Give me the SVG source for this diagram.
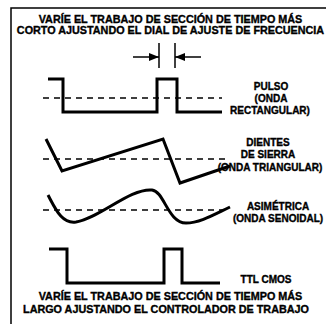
<svg xmlns="http://www.w3.org/2000/svg" width="326" height="324" viewBox="0 0 326 324">
<style>
.t{font-family:"Liberation Sans",Arial,sans-serif;font-weight:bold;font-size:10.8px;fill:#000;stroke:#000;stroke-width:0.35;text-anchor:middle}
.l{font-family:"Liberation Sans",Arial,sans-serif;font-weight:bold;font-size:10px;fill:#000;stroke:#000;stroke-width:0.35;text-anchor:middle}
.w{fill:none;stroke:#000;stroke-width:3;stroke-linejoin:miter}
.d{fill:none;stroke:#000;stroke-width:1.5;stroke-dasharray:6 5}
.a{fill:none;stroke:#000;stroke-width:1.5}
</style>
<defs>
<marker id="ah" markerWidth="10" markerHeight="8" refX="10" refY="4" orient="auto" markerUnits="userSpaceOnUse">
<path d="M0,0 L10,4 L0,8 Z" fill="#000"/>
</marker>
</defs>
<rect width="326" height="324" fill="#fff"/>
<g id="frame">
<path d="M11,324 V8 H326" class="a"/>
</g>
<g id="title">
<text class="t" x="170.5" y="23">VARÍE EL TRABAJO DE SECCIÓN DE TIEMPO MÁS</text>
<text class="t" x="170.5" y="34">CORTO AJUSTANDO EL DIAL DE AJUSTE DE FRECUENCIA</text>
</g>
<g id="connectors">
<line x1="159" y1="43" x2="159" y2="68" class="a"/>
<line x1="175" y1="43" x2="175" y2="68" class="a"/>
<line x1="133" y1="57" x2="159" y2="57" class="a" marker-end="url(#ah)"/>
<line x1="201" y1="57" x2="175" y2="57" class="a" marker-end="url(#ah)"/>
</g>
<g id="pulso">
<line x1="43" y1="98" x2="222" y2="98" class="d"/>
<path d="M48,79 H63 V112 H157 V79 H177 V112 H222" class="w"/>
<text class="l" x="271" y="90">PULSO</text>
<text class="l" x="271" y="102">(ONDA</text>
<text class="l" x="270" y="114">RECTANGULAR)</text>
</g>
<g id="sierra">
<line x1="43" y1="159" x2="227" y2="159" class="d"/>
<path d="M46,139 L62,171 L163,139 L180,183 L230,166" class="w"/>
<text class="l" x="268" y="146">DIENTES</text>
<text class="l" x="268" y="158">DE SIERRA</text>
<text class="l" x="270" y="171">(ONDA TRIANGULAR)</text>
</g>
<g id="senoidal">
<line x1="43" y1="210" x2="227" y2="210" class="d"/>
<path d="M48,195 C56,210 62,224 76,222 C100,218 130,188 152,190 C164,191 168,223 186,223 C200,223 215,214 230,207" class="w"/>
<text class="l" x="278" y="210">ASIMÉTRICA</text>
<text class="l" x="278" y="222">(ONDA SENOIDAL)</text>
</g>
<g id="ttl">
<path d="M49,249 H67 V283 H164 V249 H182 V283 H220" class="w"/>
<text class="l" x="266" y="283">TTL CMOS</text>
</g>
<g id="bottom">
<text class="t" x="170.5" y="300">VARÍE EL TRABAJO DE SECCIÓN DE TIEMPO MÁS</text>
<text class="t" x="166" y="313">LARGO AJUSTANDO EL CONTROLADOR DE TRABAJO</text>
</g>
</svg>
